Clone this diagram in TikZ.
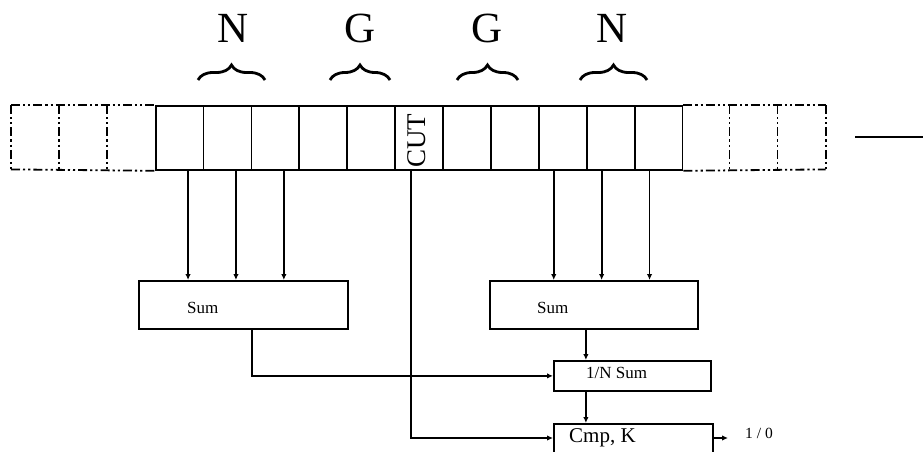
\documentclass[tikz,border=0pt]{standalone}
\usepackage{fontspec}
\setmainfont{Liberation Serif}
\usetikzlibrary{arrows.meta,decorations.pathreplacing,calc}
\begin{document}
\begin{tikzpicture}[x=1pt,y=-1pt,
  cellbox/.style={draw,line width=1.8pt,minimum width=47.9pt,minimum height=64pt,inner sep=0pt,anchor=north west},
  ghostcell/.style={minimum width=47.9pt,minimum height=64pt,inner sep=0pt,anchor=north west},
  ghostline/.style={line width=1.8pt,dash pattern=on 9pt off 3pt on 2.2pt off 3pt on 2.2pt off 3pt},
  blk/.style={draw,line width=1.8pt,inner sep=0pt,anchor=north west},
  conn/.style={line width=1.7pt,-{Latex[length=6pt,width=5.5pt]}},
  brc/.style={decorate,decoration={brace,amplitude=15pt},line width=2.8pt},
  big/.style={font=\fontsize{43}{43}\selectfont,anchor=base,inner sep=0pt},
  lbl/.style={anchor=base west,inner sep=0pt}
]
\useasboundingbox (0,0) rectangle (923,452);
\clip (0,0) rectangle (923,452);

% cells
\foreach \i in {0,1,2,14,15,16} \node[ghostcell] (c\i) at ({11+47.9*\i},105) {};
\foreach \i in {3,...,13} \node[cellbox] (c\i) at ({11+47.9*\i},105) {};
\node[rotate=90,inner sep=0pt,font=\fontsize{27}{27}\selectfont] (cut) at ([xshift=-2pt,yshift=-3pt]c8.center) {CUT};

% dashed outer cells
\draw[ghostline] (c0.north west) -- (c3.north west);
\draw[ghostline] (c0.south west) -- (c3.south west);
\draw[ghostline] (c0.north west) -- (c0.south west);
\draw[ghostline] (c1.north west) -- (c1.south west);
\draw[ghostline] (c2.north west) -- (c2.south west);
\draw[ghostline] (c13.north east) -- (c16.north east);
\draw[ghostline] (c13.south east) -- (c16.south east);
\draw[ghostline] (c15.north west) -- (c15.south west);
\draw[ghostline] (c16.north west) -- (c16.south west);
\draw[ghostline] (c16.north east) -- (c16.south east);

% right stray line
\coordinate (r0) at (855,137);
\coordinate (r1) at (923,137);
\draw[line width=1.8pt] (r0) -- (r1);

% labels and braces
\node[big] (n1) at (233,43) {N};
\node[big] (g1) at (360,43) {G};
\node[big] (g2) at (487,43) {G};
\node[big] (n2) at (612,43) {N};
\coordinate (b1a) at (198,80); \coordinate (b1b) at (265,80);
\coordinate (b2a) at (330,80); \coordinate (b2b) at (390,80);
\coordinate (b3a) at (457,80); \coordinate (b3b) at (518,80);
\coordinate (b4a) at (580,80); \coordinate (b4b) at (647,80);
\draw[brc] (b1a) -- (b1b);
\draw[brc] (b2a) -- (b2b);
\draw[brc] (b3a) -- (b3b);
\draw[brc] (b4a) -- (b4b);

% blocks
\node[blk,minimum width=209pt,minimum height=48pt] (sumL) at (138,280) {};
\node[blk,minimum width=208pt,minimum height=48pt] (sumR) at (489,280) {};
\node[blk,minimum width=157pt,minimum height=30pt] (norm) at (553,360) {};
\node[blk,minimum width=159pt,minimum height=50pt] (cmp) at (553,423) {};
\node[lbl,font=\fontsize{17}{17}\selectfont] (sumLt) at (187,313) {Sum};
\node[lbl,font=\fontsize{17}{17}\selectfont] (sumRt) at (537,313) {Sum};
\node[lbl,font=\fontsize{17}{17}\selectfont] (normt) at (586,378) {1/N Sum};
\node[lbl,font=\fontsize{21}{21}\selectfont] (cmpt) at (569,442) {Cmp, K};
\node[lbl,font=\fontsize{15.5}{15.5}\selectfont] (outt) at (745,438) {1 / 0};

% arrows from cells
\foreach \i in {3,4,5}
  \draw[conn] ([xshift=8.5pt]c\i.south) -- ([xshift=8.5pt]c\i.south |- sumL.north);
\foreach \i in {11,12,13}
  \draw[conn] ([xshift=-9pt]c\i.south) -- ([xshift=-9pt]c\i.south |- sumR.north);

% flows
\draw[conn] ([xshift=8.5pt]sumL.south) |- (norm.west);
\draw[conn] ([xshift=-8pt]sumR.south) -- ([xshift=-8pt]sumR.south |- norm.north);
\draw[conn] ([xshift=-8pt]sumR.south |- norm.south) -- ([xshift=-8pt]sumR.south |- cmp.north);
\coordinate (out) at (728,438);
\draw[conn] ([xshift=-8pt]c8.south) |- (cmp.west |- out);
\draw[conn] (cmp.east |- out) -- (out);
\end{tikzpicture}
\end{document}
